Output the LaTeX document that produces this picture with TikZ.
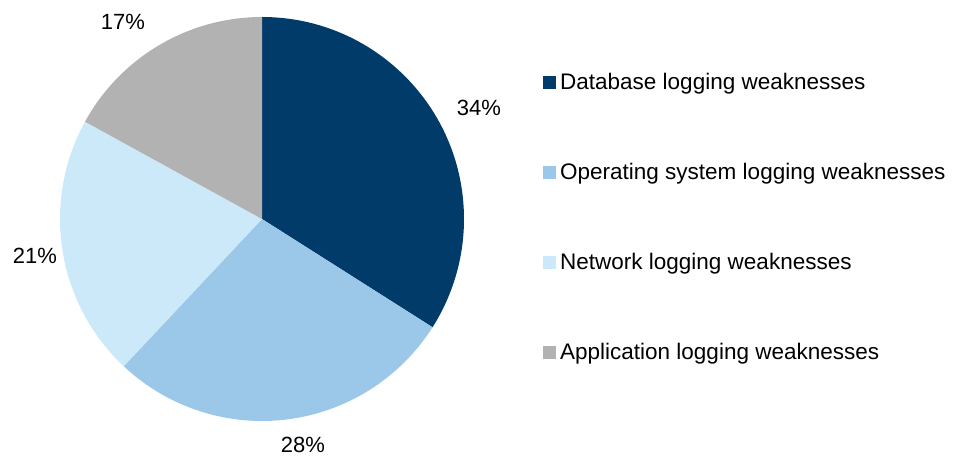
\documentclass[tikz,border=0pt]{standalone}
\usepackage{fontspec}
\setmainfont{Liberation Sans}
\definecolor{cdb}{RGB}{0,59,106}
\definecolor{cos}{RGB}{155,200,233}
\definecolor{cnet}{RGB}{204,233,249}
\definecolor{capp}{RGB}{178,178,178}
\tikzset{
  lbl/.style={font=\fontsize{22}{26}\selectfont, inner sep=0pt, anchor=base},
  legtxt/.style={font=\fontsize{22.5}{26}\selectfont, inner sep=0pt, anchor=base west},
  legsq/.style={minimum size=13pt, inner sep=0pt, draw=none}
}
\begin{document}
\begin{tikzpicture}[x=1pt,y=-1pt]
\useasboundingbox (0,0) rectangle (954,457);
\coordinate (c) at (262,219);
\def\R{202}
\fill[cdb]  (c) -- ++(-90:\R) arc[start angle=-90,end angle=32.4,radius=\R] -- cycle;
\fill[cos]  (c) -- ++(32.4:\R) arc[start angle=32.4,end angle=133.2,radius=\R] -- cycle;
\fill[cnet] (c) -- ++(133.2:\R) arc[start angle=133.2,end angle=208.8,radius=\R] -- cycle;
\fill[capp] (c) -- ++(208.8:\R) arc[start angle=208.8,end angle=270,radius=\R] -- cycle;
\node[lbl] (p34) at (479,115.5) {34\%};
\node[lbl] (p28) at (303,452) {28\%};
\node[lbl] (p21) at (35,263.5) {21\%};
\node[lbl] (p17) at (123,30) {17\%};
\node[legsq,fill=cdb]  (s1) at (549,82.8) {};
\node[legsq,fill=cos]  (s2) at (549,172.8) {};
\node[legsq,fill=cnet] (s3) at (549,262.8) {};
\node[legsq,fill=capp] (s4) at (549,352.8) {};
\node[legtxt] (t1) at (560,89.3) {Database logging weaknesses};
\node[legtxt] (t2) at (560,179.3) {Operating system logging weaknesses};
\node[legtxt] (t3) at (560,269.3) {Network logging weaknesses};
\node[legtxt] (t4) at (560,359.3) {Application logging weaknesses};
\end{tikzpicture}
\end{document}
